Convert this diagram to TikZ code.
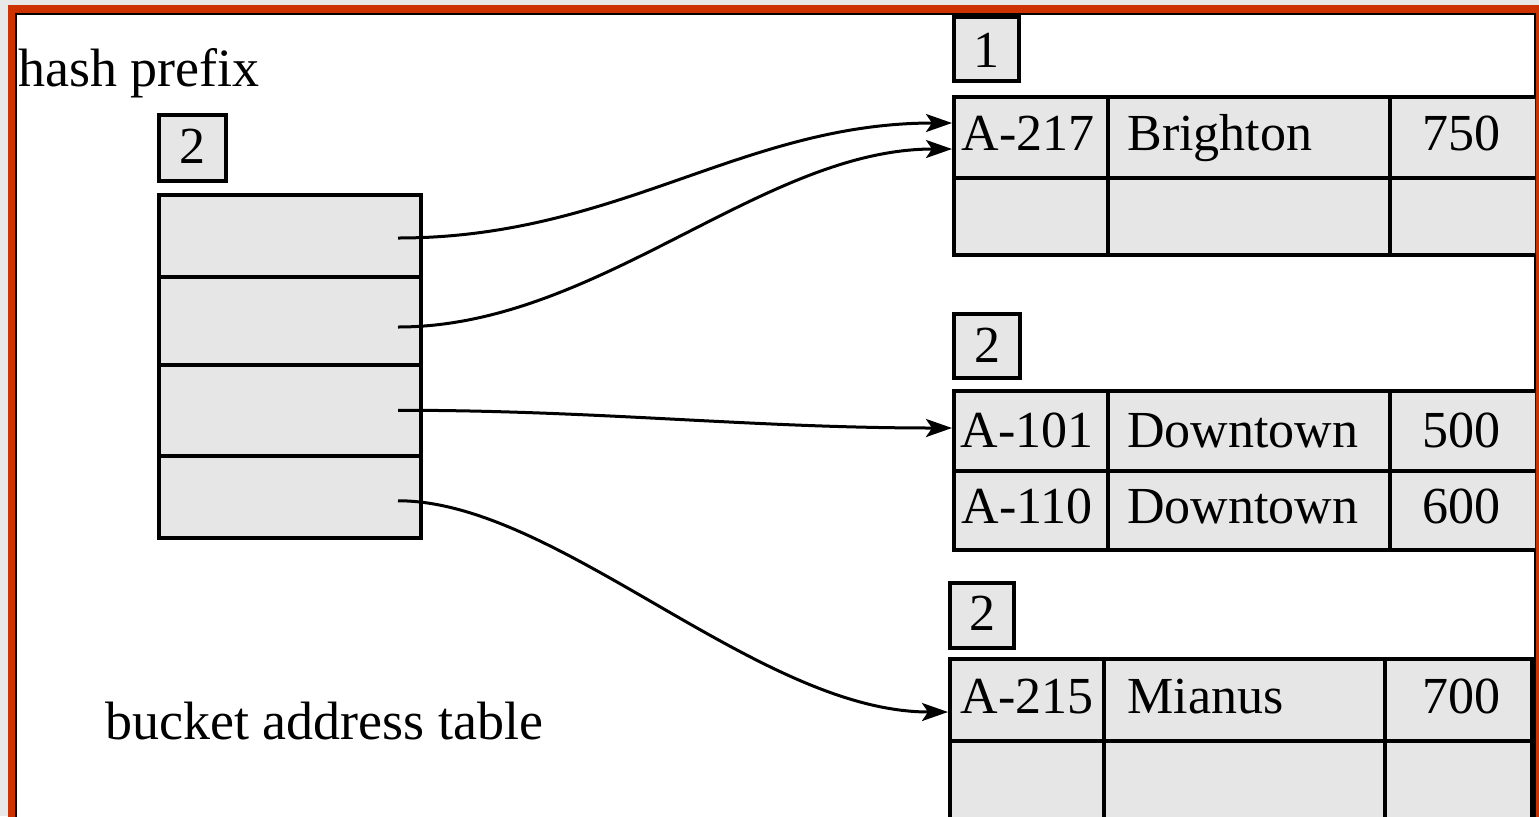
\documentclass[tikz,border=0pt]{standalone}
\usepackage{fontspec}
\setmainfont{Liberation Serif}
\usetikzlibrary{arrows.meta,calc}
\definecolor{cellgray}{RGB}{230,230,230}
\definecolor{framered}{RGB}{204,51,0}
\definecolor{outgray}{RGB}{232,232,232}
\tikzset{
  sz/.style 2 args={minimum width=#1*0.5pt, minimum height=#2*0.5pt},
  cellbox/.style={draw=black, fill=cellgray, line width=2pt, inner sep=0pt, outer sep=0pt, anchor=north west},
  txt/.style={inner sep=0pt, anchor=base, font=\fontsize{26}{30}\selectfont},
  lbl/.style={inner sep=0pt, anchor=base west, font=\fontsize{27}{31}\selectfont},
  ptr/.style={line width=1.5pt, -{Stealth[length=13pt,width=9pt,inset=3pt]}}
}
\begin{document}
\begin{tikzpicture}[x=0.5pt,y=-0.5pt]
\useasboundingbox (0,0) rectangle (1539,816);
% frame
\fill[outgray] (0,0) rectangle (1539,816);
\fill[framered] (8,5) rectangle (1560,830);
\fill[black] (15,13) rectangle (1536,830);
\fill[white] (17,15) rectangle (1534,830);
\begin{scope}
\clip (17,15) rectangle (1535,830);
% labels
\node[lbl] (hp) at (18,86) {hash prefix};
\node[lbl] (bat) at (105,739) {bucket address table};
% hash prefix box
\node[cellbox, sz={67}{66}] (hpbox) at (159,115) {};
\node[txt] (hpnum) at (192.5,163) {2};
% bucket address table
\node[cellbox, sz={262}{82}] (bat1) at (159,195) {};
\node[cellbox, sz={262}{88}] (bat2) at (159,277) {};
\node[cellbox, sz={262}{90.5}] (bat3) at (159,365) {};
\node[cellbox, sz={262}{82.5}] (bat4) at (159,455.5) {};
% bucket 1
\node[cellbox, sz={65}{64}] (b1box) at (954,17) {};
\node[txt] (b1num) at (986.5,67) {1};
\node[cellbox, sz={154}{81}] (c11) at (954,97) {};
\node[cellbox, sz={282}{81}] (c12) at (1108,97) {};
\node[cellbox, sz={155}{81}] (c13) at (1390,97) {};
\node[cellbox, sz={154}{77}] (c14) at (954,178) {};
\node[cellbox, sz={282}{77}] (c15) at (1108,178) {};
\node[cellbox, sz={155}{77}] (c16) at (1390,178) {};
\node[txt] (t11) at (1028,150) {A-217};
\node[txt, anchor=base west] (t12) at (1127,150) {Brighton};
\node[txt] (t13) at (1461,150) {750};
% bucket 2
\node[cellbox, sz={66}{64}] (b2box) at (954,314) {};
\node[txt] (b2num) at (987,362) {2};
\node[cellbox, sz={154}{80}] (c21) at (954,391) {};
\node[cellbox, sz={282}{80}] (c22) at (1108,391) {};
\node[cellbox, sz={155}{80}] (c23) at (1390,391) {};
\node[cellbox, sz={154}{79}] (c24) at (954,471) {};
\node[cellbox, sz={282}{79}] (c25) at (1108,471) {};
\node[cellbox, sz={155}{79}] (c26) at (1390,471) {};
\node[txt] (t21) at (1027,447) {A-101};
\node[txt, anchor=base west] (t22) at (1127,447) {Downtown};
\node[txt] (t23) at (1461,447) {500};
\node[txt] (t24) at (1027,523) {A-110};
\node[txt, anchor=base west] (t25) at (1127,523) {Downtown};
\node[txt] (t26) at (1461,523) {600};
% bucket 3
\node[cellbox, sz={64}{65}] (b3box) at (950,583) {};
\node[txt] (b3num) at (982,630) {2};
\node[cellbox, sz={154}{82}] (c31) at (950,659) {};
\node[cellbox, sz={281}{82}] (c32) at (1104,659) {};
\node[cellbox, sz={147}{82}] (c33) at (1385,659) {};
\node[cellbox, sz={154}{82}] (c34) at (950,741) {};
\node[cellbox, sz={281}{82}] (c35) at (1104,741) {};
\node[cellbox, sz={147}{82}] (c36) at (1385,741) {};
\node[txt] (t31) at (1027,713) {A-215};
\node[txt, anchor=base west] (t32) at (1127,713) {Mianus};
\node[txt] (t33) at (1461,713) {700};
% pointers
\coordinate (s1) at ($(bat1.east)+(-23,2)$);
\coordinate (s2) at ($(bat2.east)+(-23,6)$);
\coordinate (s3) at ($(bat3.east)+(-23,0)$);
\coordinate (s4) at ($(bat4.east)+(-23,4)$);
\coordinate (e1) at ($(c11.west)+(-2,-14.5)$);
\coordinate (e2) at ($(c11.west)+(-2,11.5)$);
\coordinate (e3) at ($(c21.west)+(-2,-3)$);
\coordinate (e4) at ($(c31.west)+(-2,12)$);
\draw[ptr] (s1) .. controls +(220,0) and +(-210,0) .. (e1);
\draw[ptr] (s2) .. controls +(200,0) and +(-190,0) .. (e2);
\draw[ptr] (s3) .. controls +(200,0) and +(-200,0) .. (e3);
\draw[ptr] (s4) .. controls +(160,0) and +(-190,0) .. (e4);
\end{scope}
\end{tikzpicture}
\end{document}
